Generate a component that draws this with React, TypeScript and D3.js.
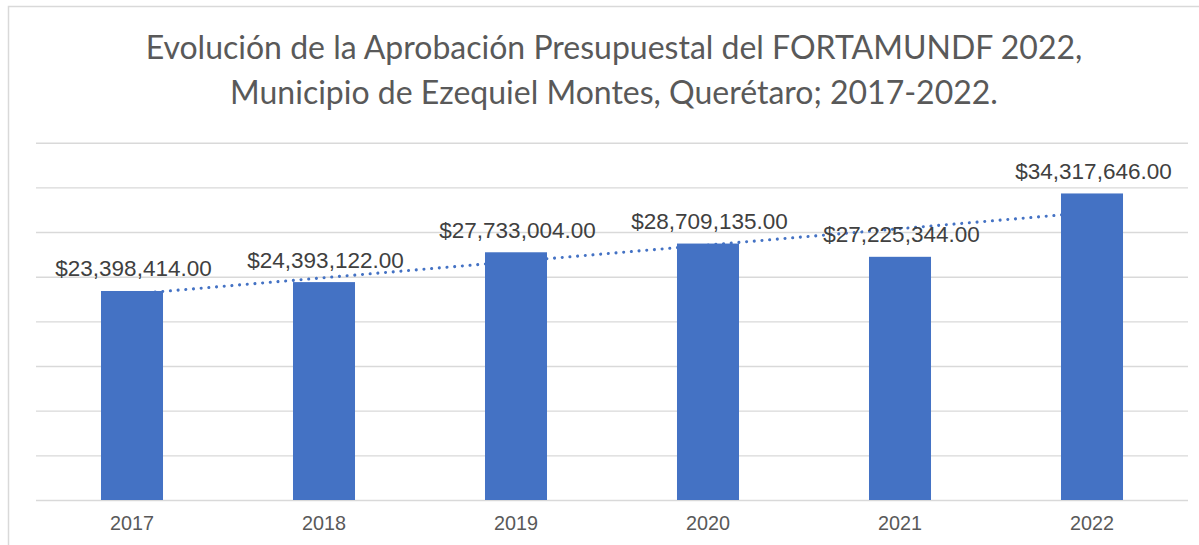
import React from "react";
import * as d3 from "d3";

// chart values
const years = ["2017", "2018", "2019", "2020", "2021", "2022"];
const approved = [23398414, 24393122, 27733004, 28709135, 27225344, 34317646];
const yTicks = [0, 5e6, 10e6, 15e6, 20e6, 25e6, 30e6, 35e6, 40e6];
const titleLines = [
  "Evolución de la Aprobación Presupuestal del FORTAMUNDF 2022,",
  "Municipio de Ezequiel Montes, Querétaro; 2017-2022.",
];

const W = 1199;
const H = 545;
const BLUE = "#4472C4";

const App = () => {
  const svgRef = React.useRef<SVGSVGElement>(null);

  React.useEffect(() => {
    const svg = d3.select(svgRef.current);
    svg.selectAll("*").remove();

    const left = 36;
    const right = 1188;
    const top = 142.7;
    const bottom = 500;

    const x = d3
      .scaleBand()
      .domain(years)
      .range([left, right])
      .paddingInner(0.677)
      .paddingOuter(0.3385);

    const y = d3.scaleLinear().domain([0, 40e6]).range([bottom, top]);

    // chart area border
    svg
      .append("rect")
      .attr("x", 8.5)
      .attr("y", 6.5)
      .attr("width", W + 100)
      .attr("height", H + 100)
      .attr("fill", "white")
      .attr("stroke", "#d9d9d9")
      .attr("stroke-width", 1.5);

    // title
    const title = svg
      .append("text")
      .attr("font-family", "Lato, 'Open Sans', sans-serif")
      .attr("font-size", 32)
      .attr("fill", "#595959")
      .attr("text-anchor", "middle");
    titleLines.forEach((t, i) => {
      title
        .append("tspan")
        .attr("x", 614)
        .attr("y", 59 + i * 44.5)
        .text(t);
    });

    // gridlines
    const yAxis = d3
      .axisLeft(y)
      .tickValues(yTicks)
      .tickSize(-(right - left))
      .tickFormat(() => "");
    const yAxisGroup = svg
      .append("g")
      .attr("transform", `translate(${left},0)`)
      .call(yAxis);
    yAxisGroup.select(".domain").remove();
    yAxisGroup
      .selectAll("line")
      .attr("stroke", "#d9d9d9")
      .attr("stroke-width", 1.4);

    // linear trendline (least squares over category index), behind the bars
    const xs = years.map((_, i) => i + 1);
    const mx = d3.mean(xs) as number;
    const my = d3.mean(approved) as number;
    const slope =
      d3.sum(xs, (v, i) => (v - mx) * (approved[i] - my)) /
      d3.sum(xs, (v) => (v - mx) * (v - mx));
    const icpt = my - slope * mx;
    const trend = [xs[0], xs[xs.length - 1]].map((v) => ({
      year: years[v - 1],
      val: icpt + slope * v,
    }));
    svg
      .append("path")
      .datum(trend)
      .attr("fill", "none")
      .attr("stroke", BLUE)
      .attr("stroke-width", 3.1)
      .attr("stroke-linecap", "round")
      .attr("stroke-dasharray", "0.01 7.7")
      .attr(
        "d",
        d3
          .line<{ year: string; val: number }>()
          .x((d) => (x(d.year) as number) + x.bandwidth() / 2)
          .y((d) => y(d.val))
      );

    // bars
    svg
      .selectAll(".bar")
      .data(approved)
      .enter()
      .append("rect")
      .attr("x", (_, i) => x(years[i]) as number)
      .attr("y", (d) => y(d))
      .attr("width", x.bandwidth())
      .attr("height", (d) => y(0) - y(d))
      .attr("fill", BLUE);

    // data labels
    const fmt = d3.format("$,.2f");
    svg
      .selectAll(".lbl")
      .data(approved)
      .enter()
      .append("text")
      .attr("x", (_, i) => (x(years[i]) as number) + x.bandwidth() / 2 + 1.5)
      .attr("y", (d) => y(d) - 14.5)
      .attr("text-anchor", "middle")
      .attr("font-family", "'Liberation Sans', Arial, sans-serif")
      .attr("font-size", 22.5)
      .attr("fill", "#404040")
      .text((d) => fmt(d));

    // category axis labels
    const xAxis = d3.axisBottom(x).tickSize(0).tickPadding(0);
    const xAxisGroup = svg
      .append("g")
      .attr("transform", `translate(0,${bottom})`)
      .call(xAxis);
    xAxisGroup.select(".domain").remove();
    xAxisGroup
      .selectAll("text")
      .attr("dy", null)
      .attr("y", 30)
      .attr("fill", "#595959")
      .attr("font-family", "'Liberation Sans', Arial, sans-serif")
      .attr("font-size", 19.8);
  }, []);

  return (
    <svg
      ref={svgRef}
      width={W}
      height={H}
      style={{ position: "absolute", left: 0, top: 0, background: "white" }}
    />
  );
};

export default App;
